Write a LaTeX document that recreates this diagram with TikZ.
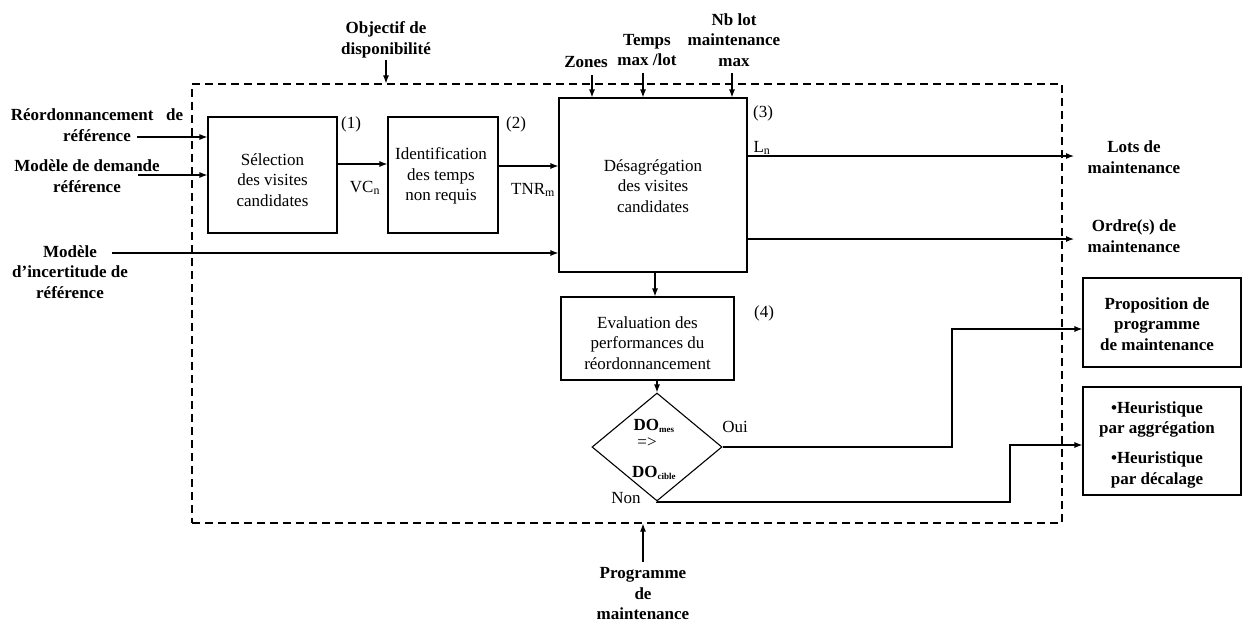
\documentclass[tikz,border=0pt]{standalone}
\usepackage{fontspec}
\setmainfont{Liberation Serif}
\usetikzlibrary{arrows.meta,shapes.geometric}
\begin{document}
\begin{tikzpicture}[x=1pt,y=-1pt,
  every node/.style={font=\fontsize{17}{20.5}\selectfont},
  blk/.style={draw,line width=1.1pt,inner sep=0pt,align=center},
  lbl/.style={align=center,inner sep=0pt,font=\fontsize{17}{20.5}\selectfont\bfseries},
  txt/.style={inner sep=0pt},
  arr/.style={line width=1.1pt,-{Latex[length=8pt,width=6pt]}},
  frm/.style={draw,dash pattern=on 8pt off 5pt,line width=1.2pt,inner sep=0pt}]
\useasboundingbox (0,0) rectangle (1242,622);
% frame
\node[frm,minimum width=870pt,minimum height=439pt] (frame) at (627,303.5) {};
% blocks
\node[blk,minimum width=129pt,minimum height=116pt] (b1) at (272.5,175) {};
\node[txt,align=center] at (272.5,180) {Sélection\\des visites\\candidates};
\node[blk,minimum width=110pt,minimum height=116pt] (b2) at (443,175) {};
\node[txt,align=center] at (441,176) {Identification\\des temps\\non requis};
\node[blk,minimum width=188pt,minimum height=174pt] (b3) at (653,185) {};
\node[txt,align=center] at (653,186) {Désagrégation\\des visites\\candidates};
\node[blk,minimum width=173pt,minimum height=83pt] (b4) at (647.5,338.5) {};
\node[txt,align=center] at (647.5,343) {Evaluation des\\performances du\\réordonnancement};
\node[draw,diamond,line width=1.1pt,minimum width=130pt,minimum height=108pt,inner sep=0pt] (dia) at (657,447) {};
\node[txt,font=\fontsize{17}{20}\selectfont\bfseries] (dmes) at (654,426) {DO\textsubscript{\fontsize{9}{9}\selectfont mes}};
\node[txt] (dimp) at (647,443) {=>};
\node[txt,font=\fontsize{17}{20}\selectfont\bfseries] (dcib) at (654,473) {DO\textsubscript{\fontsize{9}{9}\selectfont cible}};
\node[blk,minimum width=158pt,minimum height=89pt] (prop) at (1162,322.5) {};
\node[lbl] at (1157,324) {Proposition de\\programme\\de maintenance};
\node[blk,minimum width=158pt,minimum height=108pt] (heur) at (1162,441) {};
\node[lbl] at (1157,419.5) {•Heuristique\\par aggrégation};
\node[lbl] at (1157,470) {•Heuristique\\par décalage};
% numbers
\node[txt] (n1) at (351,124) {(1)};
\node[txt] (n2) at (516,124) {(2)};
\node[txt] (n3) at (763,113) {(3)};
\node[txt] (n4) at (764,313) {(4)};
% input labels
\node[lbl] (in1) at (97,125) {Réordonnancement~~~de\\référence};
\node[lbl] (in2) at (87,176) {Modèle de demande\\référence};
\node[lbl] (in3) at (70,272) {Modèle\\d’incertitude de\\référence};
\node[lbl] (obj) at (386,40) {Objectif de\\disponibilité};
\node[lbl] (zon) at (586,62) {Zones};
\node[lbl] (tmp) at (647,50) {Temps\\max /lot};
\node[lbl] (nbl) at (734,40) {Nb lot\\maintenance\\max};
\node[lbl] (prog) at (643,594) {Programme\\de\\maintenance};
\node[lbl] (lots) at (1134,157) {Lots de\\maintenance};
\node[lbl] (ord) at (1134,236) {Ordre(s) de\\maintenance};
% coordinates
\coordinate (s1) at (137,137);
\coordinate (s2) at (138,175);
\coordinate (s3) at (112,253);
\coordinate (e1) at (1074,156);
\coordinate (e2) at (1074,239);
\coordinate (so) at (386,60);
\coordinate (sz) at (592,75);
\coordinate (st) at (643,73);
\coordinate (sn) at (732,73);
\coordinate (sp) at (643,562);
\coordinate (k2) at (952,329);
\coordinate (k4) at (1010,502);
\coordinate (k5) at (1010,445);
% connectors
\draw[arr] (s1) -- (s1 -| b1.west);
\draw[arr] (s2) -- (s2 -| b1.west);
\draw[arr] (s3) -- (s3 -| b3.west);
\draw[arr] (b1.east |- 0,164) -- (b2.west |- 0,164);
\draw[arr] (b2.east |- 0,166) -- (b3.west |- 0,166);
\node[txt] at (365,188) {VC\textsubscript{n}};
\node[txt] at (533,190) {TNR\textsubscript{m}};
\draw[arr] (b3.east |- e1) -- (e1);
\node[txt] at (762,148) {L\textsubscript{n}};
\draw[arr] (b3.east |- e2) -- (e2);
\draw[arr] (so) -- (so |- frame.north);
\draw[arr] (sz) -- (sz |- b3.north);
\draw[arr] (st) -- (st |- b3.north);
\draw[arr] (sn) -- (sn |- b3.north);
\draw[arr] (sp) -- (sp |- frame.south);
\draw[arr] (b3.south -| 655,0) -- (b4.north -| 655,0);
\draw[arr] (b4.south -| dia.north) -- (dia.north);
\draw[arr] (dia.east) -- (dia.east -| k2) -- (k2) -- (k2 -| prop.west);
\draw[arr] (dia.south) -- (dia.south |- k4) -- (k4) -- (k5) -- (k5 -| heur.west);
\node[txt] at (735,427) {Oui};
\node[txt] at (626,498) {Non};
\end{tikzpicture}
\end{document}
